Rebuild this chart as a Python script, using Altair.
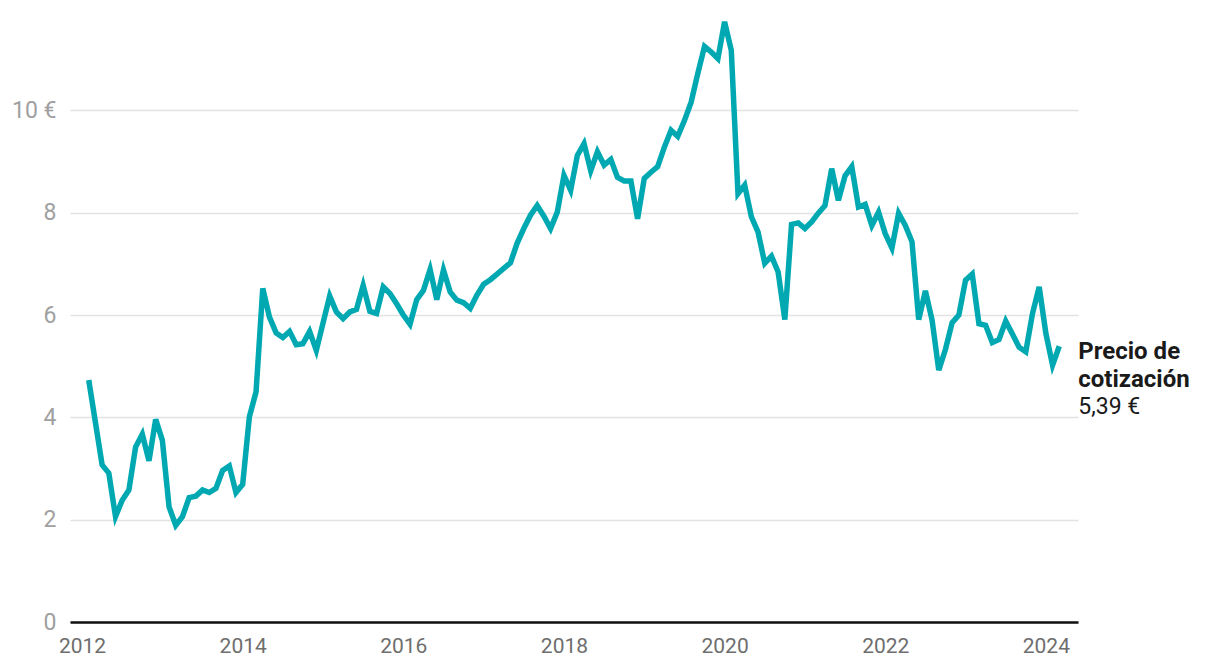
import altair as alt
import pandas as pd

start_year = 2012
start_month = 2
prices = [
    # 2012 (Feb-Dec)
    4.73, 3.90, 3.07, 2.91, 2.06, 2.38, 2.58, 3.42, 3.67, 3.15, 3.96,
    # 2013
    3.55, 2.25, 1.89, 2.06, 2.43, 2.46, 2.58, 2.53, 2.61, 2.96, 3.05, 2.53,
    # 2014
    2.69, 4.01, 4.50, 6.52, 5.96, 5.65, 5.56, 5.68, 5.42, 5.44, 5.68, 5.31,
    # 2015
    5.84, 6.37, 6.06, 5.93, 6.06, 6.11, 6.58, 6.07, 6.03, 6.55, 6.42, 6.22,
    # 2016
    6.00, 5.82, 6.30, 6.48, 6.89, 6.30, 6.88, 6.45, 6.29, 6.24, 6.13, 6.39,
    # 2017
    6.60, 6.69, 6.80, 6.91, 7.02, 7.40, 7.69, 7.95, 8.14, 7.93, 7.69, 8.01,
    # 2018
    8.73, 8.44, 9.12, 9.35, 8.82, 9.19, 8.93, 9.04, 8.69, 8.62, 8.62, 7.88,
    # 2019
    8.67, 8.79, 8.90, 9.28, 9.61, 9.49, 9.80, 10.16, 10.72, 11.25, 11.14, 11.01,
    # 2020
    11.73, 11.17, 8.37, 8.54, 7.92, 7.62, 7.01, 7.15, 6.84, 5.91, 7.77, 7.80,
    # 2021
    7.69, 7.82, 7.99, 8.14, 8.86, 8.24, 8.72, 8.90, 8.11, 8.16, 7.75, 8.01,
    # 2022
    7.59, 7.31, 7.99, 7.75, 7.43, 5.91, 6.47, 5.90, 4.92, 5.33, 5.85, 6.00,
    # 2023
    6.68, 6.80, 5.83, 5.80, 5.46, 5.52, 5.88, 5.63, 5.37, 5.28, 6.03, 6.55,
    # 2024 (Jan-Mar)
    5.64, 5.02, 5.39,
]
year_ticks = [2012, 2014, 2016, 2018, 2020, 2022, 2024]
y_ticks = [0, 2, 4, 6, 8, 10]
label_title = ["Precio de", "cotización"]
label_value = "5,39 €"

times = [start_year + (start_month - 1 + i) / 12 for i in range(len(prices))]
df = pd.DataFrame({"t": times, "precio": prices})
last = df.tail(1)

FONT = "Roboto"
TEAL = "#00a9b1"

x_enc = alt.X(
    "t:Q",
    scale=alt.Scale(domain=[2011.85, 2024.40], nice=False, zero=False),
    axis=alt.Axis(
        values=year_ticks, format="d", title=None, grid=False, ticks=False,
        domain=True, domainColor="#111111", domainWidth=2.5,
        labelFont=FONT, labelFontSize=21, labelColor="#6e6e6e", labelPadding=13,
        labelFlush=False,
    ),
)
y_enc = alt.Y(
    "precio:Q",
    scale=alt.Scale(domain=[0, 12], nice=False),
    axis=alt.Axis(
        values=y_ticks, title=None, grid=True, gridColor="#e3e3e3", gridWidth=1.5,
        ticks=False, domain=False,
        labelExpr="datum.value == 10 ? '10 €' : datum.label",
        labelFont=FONT, labelFontSize=23, labelColor="#a0a0a0", labelPadding=14,
    ),
)

line = alt.Chart(df).mark_line(color=TEAL, strokeWidth=5.5, strokeJoin="miter", strokeCap="butt").encode(
    x=x_enc, y=y_enc
)

title_text = alt.Chart(last).mark_text(
    align="left", baseline="alphabetic", dx=19, dy=13, font=FONT, fontSize=24,
    fontWeight="bold", color="#1a1a1a", lineHeight=28,
).encode(x="t:Q", y="precio:Q", text=alt.value(label_title))

value_text = alt.Chart(last).mark_text(
    align="left", baseline="alphabetic", dx=19, dy=68, font=FONT, fontSize=23,
    color="#1a1a1a",
).encode(x="t:Q", y="precio:Q", text=alt.value(label_value))

chart = (
    alt.layer(line, title_text, value_text)
    .properties(
        width=1008, height=614,
        autosize=alt.AutoSizeParams(type="none"),
        padding={"left": 70, "top": 8, "right": 142, "bottom": 50},
        background="white",
    )
    .configure_view(stroke=None)
)

chart.save("out.html", embed_options={"renderer": "svg", "actions": False})
